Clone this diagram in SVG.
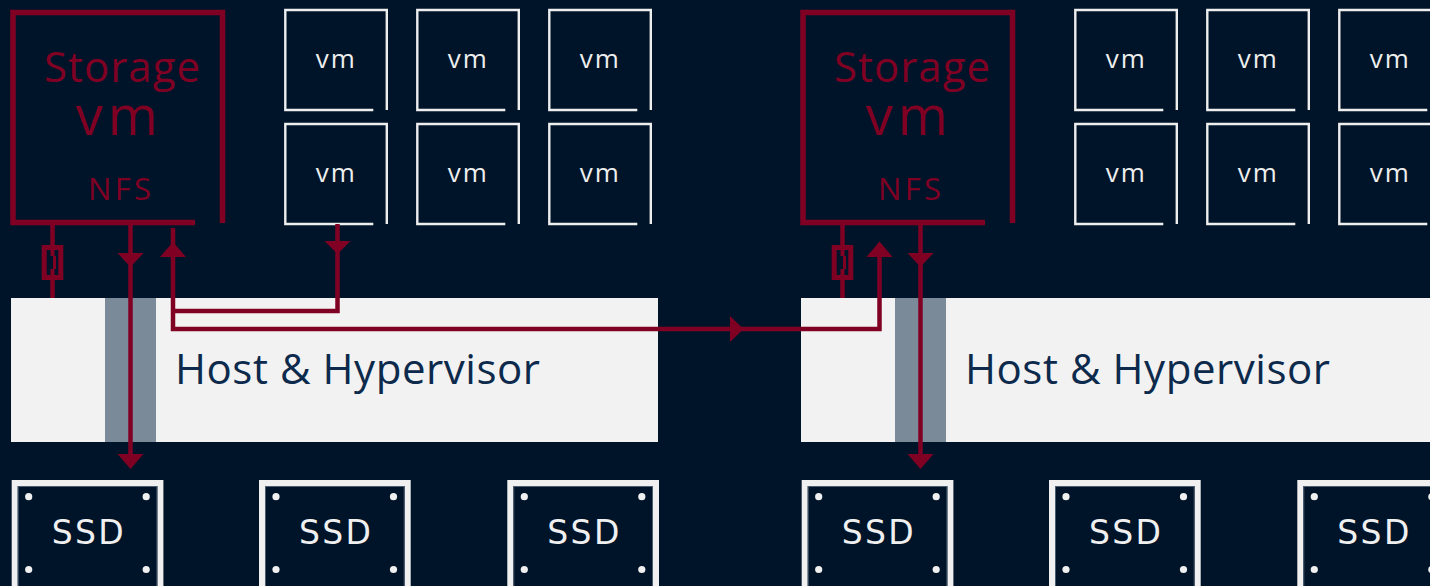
<svg xmlns="http://www.w3.org/2000/svg" width="1430" height="586" viewBox="0 0 1430 586">
<defs>
<style>
.bg{fill:#001429}
.sframe{fill:none;stroke:#800024;stroke-width:5.5}
.stxt{font-family:"Open Sans","Liberation Sans",sans-serif;fill:#800024;text-anchor:middle}
.vframe{fill:none;stroke:#eeeeee;stroke-width:2.4}
.vtxt{font-family:"Open Sans","Liberation Sans",sans-serif;fill:#eeeeee;font-size:26px;text-anchor:middle}
.host{fill:#f2f2f2}
.bar{fill:#7b8a99}
.htxt{font-family:"Open Sans","Liberation Sans",sans-serif;fill:#0d2a4c;font-size:42px}
.ssd{fill:#001429;stroke:#f0f0f0;stroke-width:6}
.ssdin{fill:none;stroke:#4d5d70;stroke-width:1}
.dot{fill:#f0f0f0}
.ssdtxt{font-family:"DejaVu Sans","Open Sans",sans-serif;fill:#f0f0f0;font-size:33px;text-anchor:middle}
.ln{fill:none;stroke:#800024;stroke-width:4.5}
.ah{fill:#800024}
</style>
<g id="vmbox">
<path class="vframe" d="M88,100 H0 V0 H101.5 V100"/>
<text class="vtxt" x="50" y="58.3" textLength="39">vm</text>
</g>
<g id="ssdbox">
<rect class="ssd" x="3" y="3" width="145.7" height="130"/>
<rect class="ssdin" x="6.5" y="6.5" width="138.7" height="120"/>
<circle class="dot" cx="17" cy="16.7" r="3.6"/>
<circle class="dot" cx="134.5" cy="16.7" r="3.6"/>
<circle class="dot" cx="17" cy="89.5" r="3.6"/>
<circle class="dot" cx="134.5" cy="89.5" r="3.6"/>
<text class="ssdtxt" x="76" y="64" textLength="72">SSD</text>
</g>
</defs>
<rect class="bg" x="0" y="0" width="1430" height="586"/>

<!-- Left server -->
<g id="host-left">
<rect class="host" x="11" y="298" width="647" height="144"/>
<rect class="bar" x="105" y="298" width="51" height="144"/>
<text class="htxt" x="175" y="383.5" textLength="365">Host &amp; Hypervisor</text>
</g>
<g id="storage-vm-left">
<path class="sframe" d="M195,222.5 H13 V12.5 H222.5 V223"/>
<text class="stxt" x="122" y="82" font-size="42" textLength="156">Storage</text>
<text class="stxt" x="117" y="135" font-size="54" textLength="82">vm</text>
<text class="stxt" x="119.5" y="199.5" font-size="31" textLength="63">NFS</text>
</g>
<g id="vms-left">
<use href="#vmbox" x="285.3" y="10"/>
<use href="#vmbox" x="417.3" y="10"/>
<use href="#vmbox" x="549.3" y="10"/>
<use href="#vmbox" x="285.3" y="124"/>
<use href="#vmbox" x="417.3" y="124"/>
<use href="#vmbox" x="549.3" y="124"/>
</g>
<g id="ssds-left">
<use href="#ssdbox" x="11.7" y="480"/>
<use href="#ssdbox" x="259" y="480"/>
<use href="#ssdbox" x="507.3" y="480"/>
</g>

<!-- Right server -->
<g id="host-right">
<rect class="host" x="801" y="298" width="629" height="144"/>
<rect class="bar" x="895" y="298" width="51" height="144"/>
<text class="htxt" x="965" y="383.5" textLength="365">Host &amp; Hypervisor</text>
</g>
<g id="storage-vm-right">
<path class="sframe" d="M985,222.5 H803 V12.5 H1012.5 V223"/>
<text class="stxt" x="912" y="82" font-size="42" textLength="156">Storage</text>
<text class="stxt" x="907" y="135" font-size="54" textLength="82">vm</text>
<text class="stxt" x="909.5" y="199.5" font-size="31" textLength="63">NFS</text>
</g>
<g id="vms-right">
<use href="#vmbox" x="1075.3" y="10"/>
<use href="#vmbox" x="1207.3" y="10"/>
<use href="#vmbox" x="1339.3" y="10"/>
<use href="#vmbox" x="1075.3" y="124"/>
<use href="#vmbox" x="1207.3" y="124"/>
<use href="#vmbox" x="1339.3" y="124"/>
</g>
<g id="ssds-right">
<use href="#ssdbox" x="801.7" y="480"/>
<use href="#ssdbox" x="1049" y="480"/>
<use href="#ssdbox" x="1297.3" y="480"/>
</g>

<g id="connectors">
<!-- left connector symbol -->
<line class="ln" x1="52.5" y1="225" x2="52.5" y2="298"/>
<rect x="44.2" y="247.5" width="16.6" height="30" fill="#001429" stroke="#800024" stroke-width="5"/>
<rect x="50.5" y="250" width="4" height="6" class="ah"/>
<rect x="50.5" y="269" width="4" height="6" class="ah"/>
<rect x="53" y="256" width="3" height="13" class="ah"/>
<!-- left down arrow to SSD -->
<line class="ln" x1="130.5" y1="225" x2="130.5" y2="456"/>
<polygon class="ah" points="117.5,253 143.5,253 130.5,267"/>
<polygon class="ah" points="117.5,454 143.5,454 130.5,469"/>
<!-- vm to storage -->
<path class="ln" d="M337.5,224 V311 H173"/>
<polygon class="ah" points="324.5,241 350.5,241 337.5,254"/>
<!-- up arrow left and cross-host path -->
<path class="ln" d="M173,228 V329 H879.5 V250"/>
<polygon class="ah" points="160,257 186,257 173,242"/>
<polygon class="ah" points="730,316 730,342 743.5,329"/>
<polygon class="ah" points="866.5,257 892.5,257 879.5,241.5"/>
<!-- right connector symbol -->
<line class="ln" x1="842.5" y1="225" x2="842.5" y2="298"/>
<rect x="834.2" y="247.5" width="16.6" height="30" fill="#001429" stroke="#800024" stroke-width="5"/>
<rect x="840.5" y="250" width="4" height="6" class="ah"/>
<rect x="840.5" y="269" width="4" height="6" class="ah"/>
<rect x="843" y="256" width="3" height="13" class="ah"/>
<!-- right down arrow to SSD -->
<line class="ln" x1="920.5" y1="225" x2="920.5" y2="456"/>
<polygon class="ah" points="907.5,253 933.5,253 920.5,267"/>
<polygon class="ah" points="907.5,454 933.5,454 920.5,469"/>
</g>
</svg>
